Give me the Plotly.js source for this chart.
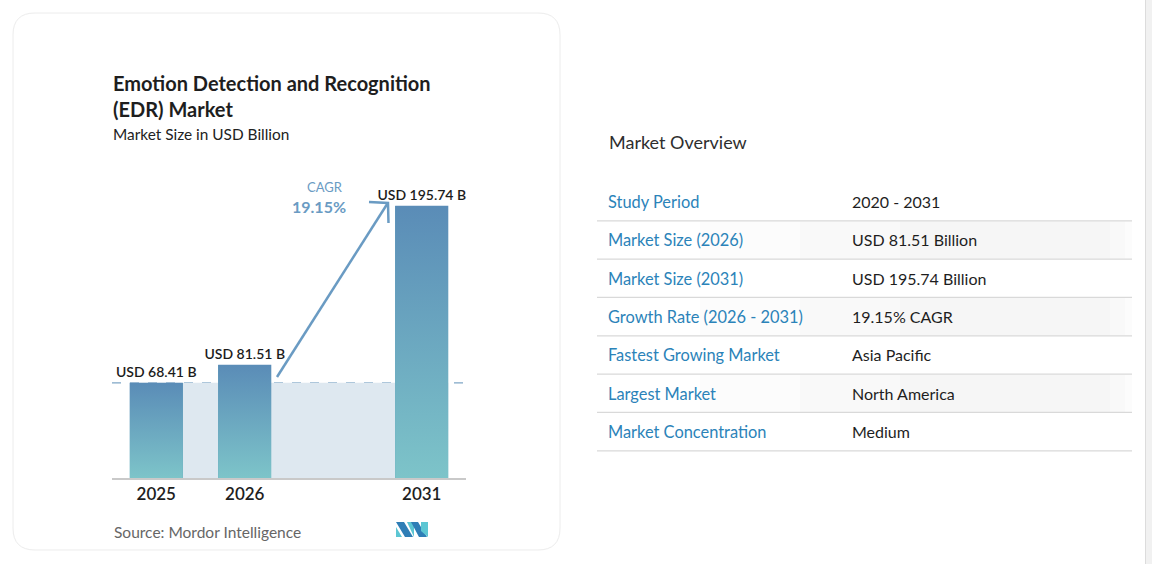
<!DOCTYPE html>
<html>
<head>
<meta charset="utf-8">
<script src="https://cdn.plot.ly/plotly-3.0.1.min.js"></script>
<style>
  html, body { margin: 0; padding: 0; background: #ffffff; }
  #chart { width: 1152px; height: 564px; }
</style>
</head>
<body>
<div id="chart"></div>
<script>
// ---------------- DATA ----------------
const categories = ['2025', '2026', '2031'];
const values = [68.41, 81.51, 195.74];
const valueLabels = ['USD 68.41 B', 'USD 81.51 B', 'USD 195.74 B'];
const cagrLabel = 'CAGR';
const cagrValue = '19.15%';
const chartTitle = 'Emotion Detection and Recognition<br>(EDR) Market';
const chartSubtitle = 'Market Size in USD Billion';
const sourceText = 'Source: Mordor Intelligence';
const overviewTitle = 'Market Overview';
const overviewLabels = ['Study Period', 'Market Size (2026)', 'Market Size (2031)', 'Growth Rate (2026 - 2031)',
                        'Fastest Growing Market', 'Largest Market', 'Market Concentration'];
const overviewValues = ['2020 - 2031', 'USD 81.51 Billion', 'USD 195.74 Billion', '19.15% CAGR',
                        'Asia Pacific', 'North America', 'Medium'];

// ---------------- LAYOUT HELPERS ----------------
const W = 1152, H = 564;
const ML = 112, MR = 686, MT = 179, MB = 86;
const PW = W - ML - MR, PH = H - MT - MB;
const BASE_Y = H - MB;
function px(x) { return (x - ML) / PW; }
function py(y) { return (BASE_Y - y) / PH; }
function path(points, close) {
  let s = '';
  points.forEach((p, i) => {
    s += (i === 0 ? 'M' : 'L') + px(p[0]).toFixed(5) + ',' + py(p[1]).toFixed(5) + ' ';
  });
  return s + (close ? 'Z' : '');
}
function roundedRect(x0, y0, x1, y1, r) {
  const P = (x, y) => px(x).toFixed(5) + ',' + py(y).toFixed(5);
  return 'M' + P(x0 + r, y0) + ' L' + P(x1 - r, y0) + ' Q' + P(x1, y0) + ' ' + P(x1, y0 + r) +
         ' L' + P(x1, y1 - r) + ' Q' + P(x1, y1) + ' ' + P(x1 - r, y1) +
         ' L' + P(x0 + r, y1) + ' Q' + P(x0, y1) + ' ' + P(x0, y1 - r) +
         ' L' + P(x0, y0 + r) + ' Q' + P(x0, y0) + ' ' + P(x0 + r, y0) + ' Z';
}

// slot positions: consecutive years side by side, forecast year after a gap
const slots = categories.map((c, i) => i + (i === categories.length - 1 ? 1 : 0));
const barW = 0.6;
const FONT = 'Lato, "Open Sans", sans-serif';
const barTop = '#5a8cb7', barBottom = '#7dc4c9';
const accent = '#6a9bc3';

// ---------------- TRACES ----------------
const traces = [];
traces.push({
  type: 'bar', x: slots, y: values, width: barW,
  marker: { color: '#6ba8c0', line: { width: 0 } },
  text: valueLabels, textposition: 'outside', cliponaxis: false, constraintext: 'none',
  textfont: { family: FONT, size: 14, color: '#1c1c1c', weight: 600 },
  hoverinfo: 'skip', showlegend: false
});
// vertical gradient fill on each bar, built from the same values
values.forEach((v, i) => {
  const x0 = slots[i] - barW / 2, x1 = slots[i] + barW / 2;
  traces.push({
    type: 'scatter', mode: 'none', x: [x0, x1, x1, x0, x0], y: [0, 0, v, v, 0],
    fill: 'toself',
    fillgradient: { type: 'vertical', colorscale: [[0, barBottom], [1, barTop]] },
    hoverinfo: 'skip', showlegend: false
  });
});

// ---------------- SHAPES ----------------
const shapes = [];
// card
shapes.push({ type: 'path', xref: 'paper', yref: 'paper', layer: 'below',
  path: roundedRect(13, 13, 560, 550, 22), fillcolor: '#ffffff', line: { color: '#ececec', width: 1 } });
// scrollbar strip
shapes.push({ type: 'rect', xref: 'paper', yref: 'paper', layer: 'below',
  x0: px(1145), x1: px(1152), y0: py(0), y1: py(564), fillcolor: '#f1f1f1', line: { width: 0 } });
shapes.push({ type: 'line', xref: 'paper', yref: 'paper', layer: 'below',
  x0: px(1145.5), x1: px(1145.5), y0: py(0), y1: py(564), line: { color: '#dcdcdc', width: 1 } });
// shaded base area up to first year's value
shapes.push({ type: 'rect', xref: 'x', yref: 'y', layer: 'below',
  x0: slots[0] - barW / 2, x1: slots[slots.length - 1] + barW / 2, y0: 0, y1: values[0],
  fillcolor: '#dee8f0', line: { width: 0 } });
// dashed reference line
shapes.push({ type: 'line', xref: 'paper', yref: 'y', layer: 'below',
  x0: 0, x1: 1, y0: values[0], y1: values[0], line: { color: '#7fa6c6', width: 1.3, dash: 'dash' } });
// CAGR arrow
shapes.push({ type: 'path', xref: 'paper', yref: 'paper', layer: 'above',
  path: path([[277, 377], [387.5, 203.5]]), line: { color: accent, width: 2.5 } });
shapes.push({ type: 'path', xref: 'paper', yref: 'paper', layer: 'above',
  path: path([[369, 202], [388, 203], [388.5, 223]]), line: { color: accent, width: 2.5 } });
// logo
shapes.push({ type: 'path', xref: 'paper', yref: 'paper', layer: 'above',
  path: path([[396, 537], [396, 527], [402, 537]], true), fillcolor: '#5cc6d3', line: { width: 0 } });
shapes.push({ type: 'path', xref: 'paper', yref: 'paper', layer: 'above',
  path: path([[396, 522], [404, 522], [413, 537], [405, 537]], true), fillcolor: '#2f7eb6', line: { width: 0 } });
shapes.push({ type: 'path', xref: 'paper', yref: 'paper', layer: 'above',
  path: path([[407, 522], [414, 522], [414, 537]], true), fillcolor: '#5cc6d3', line: { width: 0 } });
shapes.push({ type: 'path', xref: 'paper', yref: 'paper', layer: 'above',
  path: path([[411, 522], [418, 522], [427, 537], [419, 537]], true), fillcolor: '#2f7eb6', line: { width: 0 } });
shapes.push({ type: 'path', xref: 'paper', yref: 'paper', layer: 'above',
  path: path([[421, 522], [428, 522], [428, 537], [421, 531]], true), fillcolor: '#5cc6d3', line: { width: 0 } });

// table rows
const rowY0 = 202, rowStep = 38.33, tx0 = 597, tx1 = 1132;
overviewLabels.forEach((l, i) => {
  const cy = rowY0 + i * rowStep;
  if (i % 2 === 1) {
    [[700, 1132, 0.010], [800, 1125, 0.012], [900, 1110, 0.012]].forEach(g => {
      shapes.push({ type: 'rect', xref: 'paper', yref: 'paper', layer: 'below',
        x0: px(g[0]), x1: px(g[1]), y0: py(cy - 19), y1: py(cy + 18.5),
        fillcolor: 'rgba(0,0,0,' + g[2] + ')', line: { width: 0 } });
    });
  }
  shapes.push({ type: 'line', xref: 'paper', yref: 'paper', layer: 'above',
    x0: px(tx0), x1: px(tx1), y0: py(cy + 18.8), y1: py(cy + 18.8), line: { color: '#d9d9d9', width: 1.2 } });
});

// ---------------- ANNOTATIONS ----------------
const ann = [];
function txt(text, x, y, size, color, opts) {
  ann.push(Object.assign({ text: text, xref: 'paper', yref: 'paper', x: px(x), y: py(y),
    xanchor: 'left', yanchor: 'middle', showarrow: false, align: 'left',
    font: { family: FONT, size: size, color: color } }, opts || {}));
}
txt('<b>' + chartTitle + '</b>', 111, 96, 20, '#1e1e1e');
txt(chartSubtitle, 111, 134, 15.4, '#222222');
txt(sourceText, 112, 532, 15.5, '#666666');
txt(cagrLabel, 325, 187, 13, accent, { xanchor: 'center' });
txt('<b>' + cagrValue + '</b>', 319, 206.5, 16, accent, { xanchor: 'center' });
txt(overviewTitle, 607, 142, 18, '#2e2e2e');
overviewLabels.forEach((l, i) => {
  const cy = rowY0 + i * rowStep - 0.5;
  txt(l, 606, cy, 16.4, '#2b83b9');
  txt(overviewValues[i], 850, cy, 16, '#1e1e1e');
});

// ---------------- LAYOUT ----------------
const layout = {
  width: W, height: H,
  margin: { l: ML, r: MR, t: MT, b: MB, pad: 0 },
  paper_bgcolor: '#ffffff', plot_bgcolor: 'rgba(0,0,0,0)',
  showlegend: false,
  bargap: 0,
  xaxis: {
    type: 'linear', range: [-0.5, 3.5], fixedrange: true,
    tickvals: slots, ticktext: categories, ticks: '', ticklen: 0,
    tickfont: { family: FONT, size: 17, color: '#1e1e1e', weight: 600 },
    showgrid: false, zeroline: false,
    showline: true, linecolor: '#c9c9c9', linewidth: 2,
    ticklabelstandoff: 0
  },
  yaxis: { range: [0, 215], visible: false, fixedrange: true, showgrid: false, zeroline: false },
  shapes: shapes,
  annotations: ann
};

Plotly.newPlot('chart', traces, layout, { displayModeBar: false, staticPlot: true });
</script>
</body>
</html>
